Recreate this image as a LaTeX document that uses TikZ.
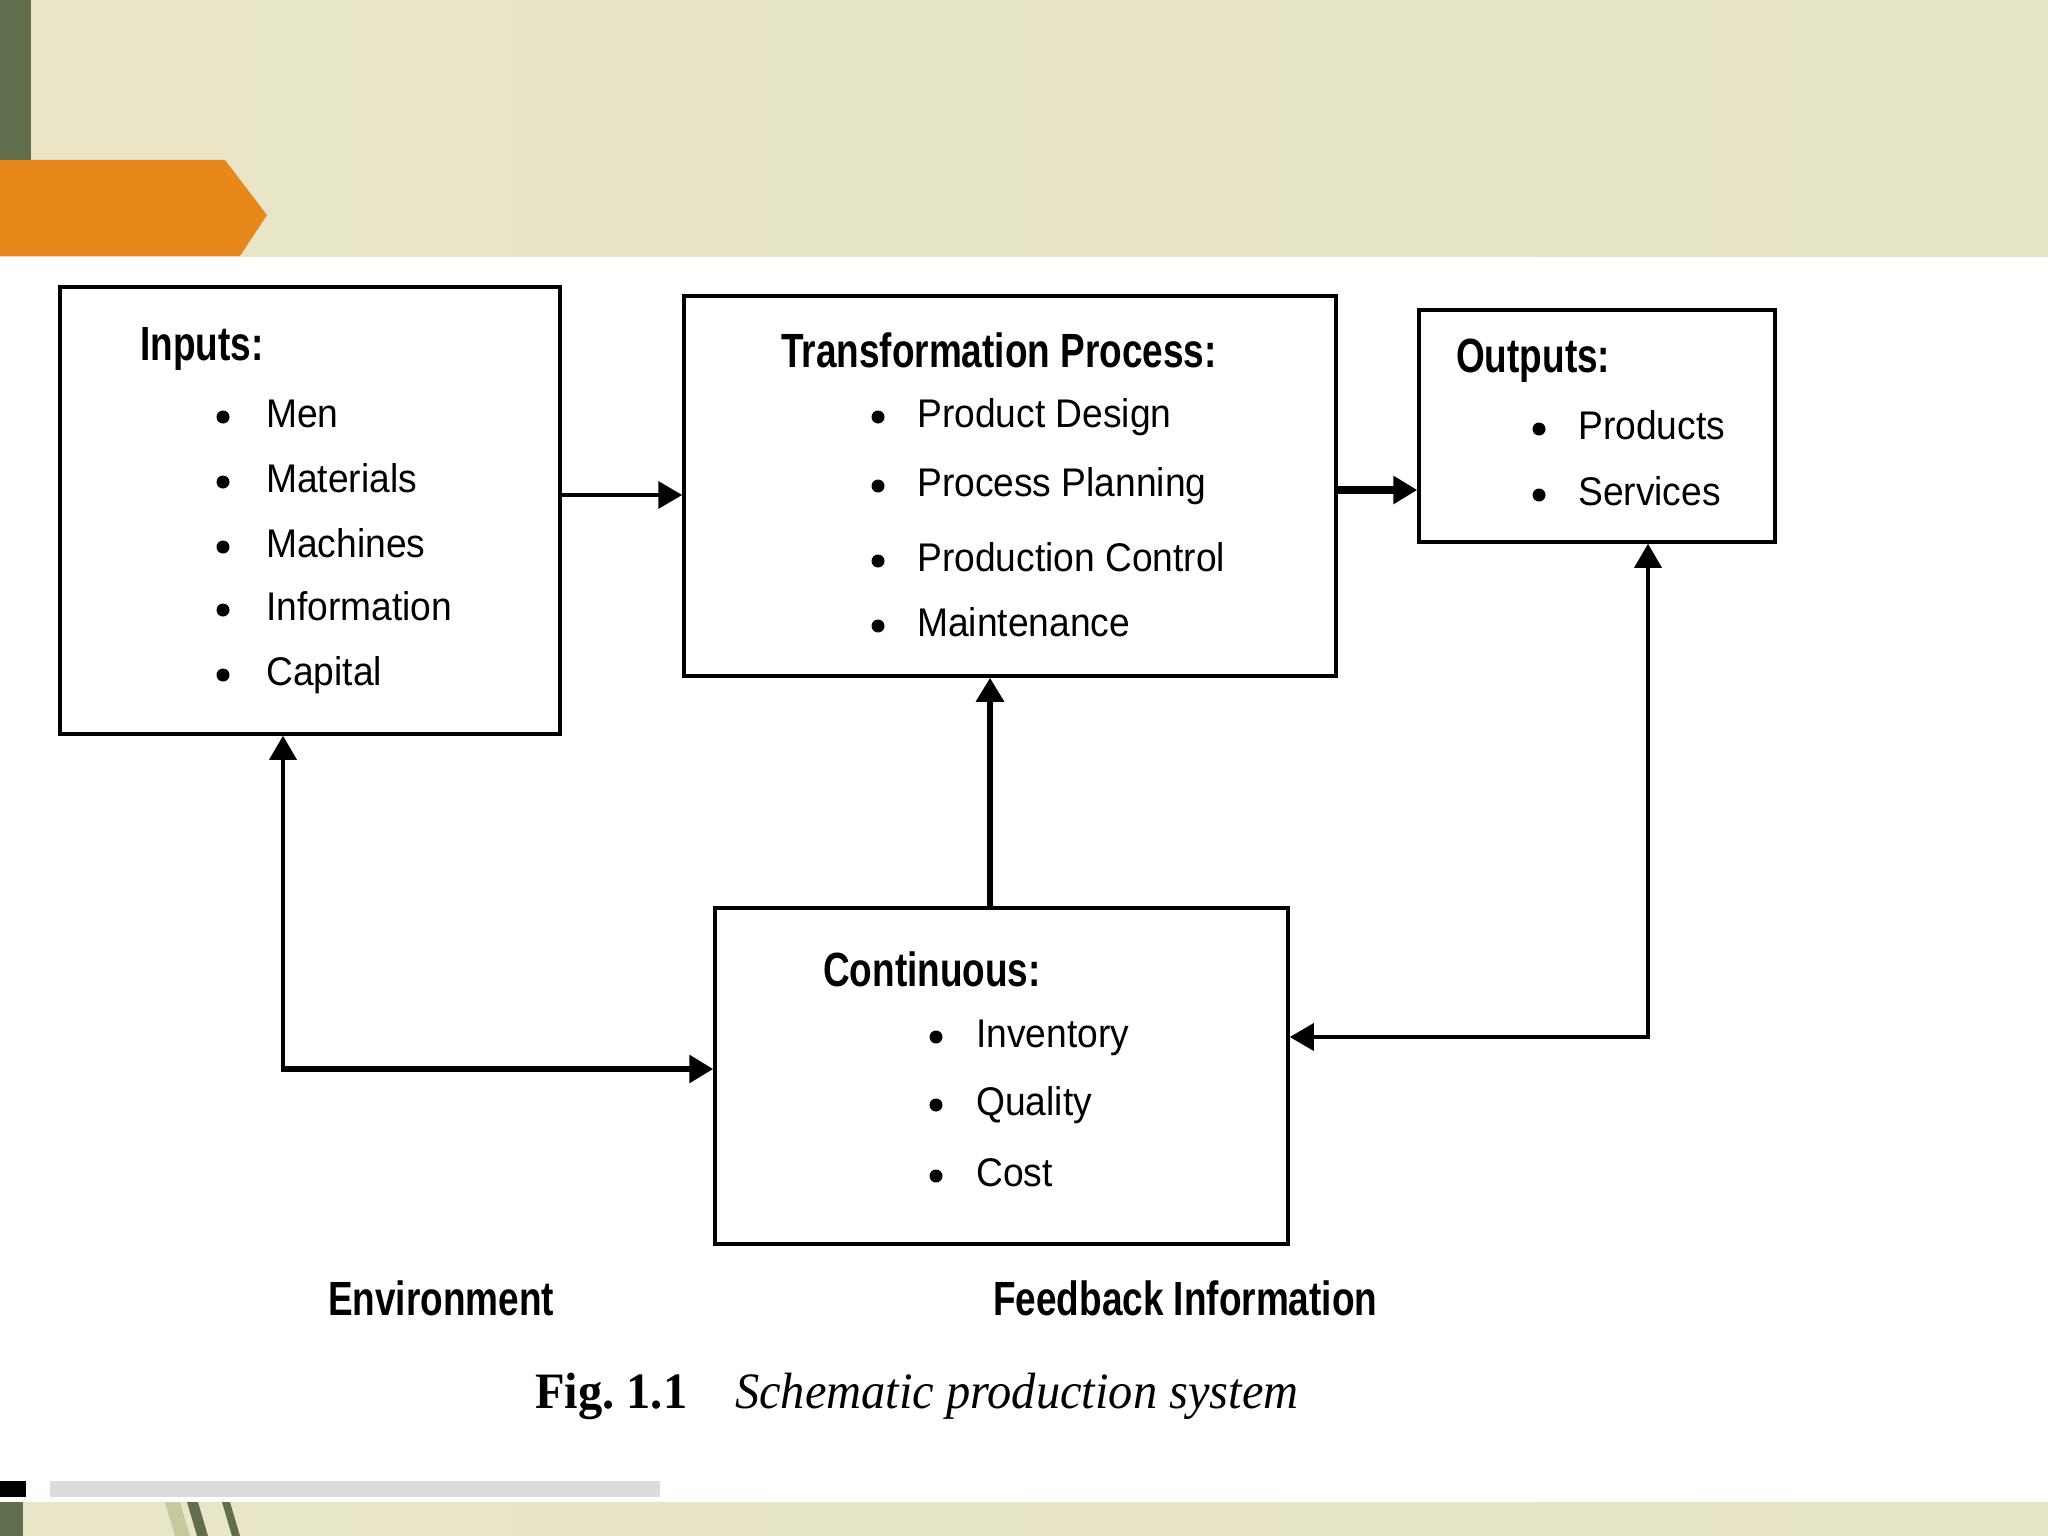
\documentclass[tikz,border=0pt]{standalone}
\usepackage{fontspec}
\setmainfont{Liberation Sans}
\newfontfamily\itemfont{Liberation Sans}[FakeStretch=0.93]
\newfontfamily\titlefont{Liberation Sans}[FakeStretch=0.77]
\newfontfamily\capfont{Liberation Serif}[FakeStretch=0.95]
\usetikzlibrary{arrows.meta}
\definecolor{bandA}{RGB}{233,230,200}
\definecolor{bandB}{RGB}{238,234,214}
\definecolor{bandC}{RGB}{229,228,197}
\definecolor{sage}{RGB}{97,110,78}
\definecolor{sagelight}{RGB}{200,200,160}
\definecolor{orng}{RGB}{232,135,26}
\definecolor{barg}{RGB}{220,219,221}
\tikzset{
  box/.style={draw=black, line width=3.5pt, inner sep=0pt, outer sep=1.75pt},
  arr/.style={-{Triangle[length=24pt,width=27pt]}},
  barr/.style={{Triangle[length=24pt,width=27pt]}-{Triangle[length=24pt,width=27pt]}},
  itm/.style={anchor=base west, inner sep=0pt, font=\itemfont\fontsize{40}{47}\selectfont},
  ttl/.style={anchor=base west, inner sep=0pt, font=\titlefont\bfseries\fontsize{48}{56}\selectfont},
  bul/.style={circle, fill=black, inner sep=0pt, minimum size=13pt},
}
\begin{document}
\begin{tikzpicture}[x=1pt,y=-1pt]
\useasboundingbox (0,0) rectangle (2048,1536);
\fill[white] (0,0) rectangle (2048,1536);
% top band
\shade[left color=bandA, middle color=bandB, right color=bandC] (0,0) rectangle (2048,256);
\fill[sage] (0,0) rectangle (31,160);
\fill[orng] (0,160) -- (225,160) -- (267,215) -- (240,256) -- (0,256) -- cycle;
% bottom band
\shade[left color=bandA, middle color=bandB, right color=bandC] (0,1502) rectangle (2048,1536);
\fill[sage] (0,1502) rectangle (23,1536);
\fill[black] (0,1481) rectangle (26,1497);
\fill[barg] (50,1481) rectangle (660,1497);
\fill[sagelight] (165,1502) -- (180,1502) -- (190,1536) -- (175,1536) -- cycle;
\fill[sage] (187,1502) -- (198,1502) -- (208,1536) -- (197,1536) -- cycle;
\fill[sage] (222,1502) -- (230,1502) -- (240,1536) -- (232,1536) -- cycle;

% boxes
\node[box, minimum width=500pt, minimum height=447pt] (inputs) at (310,510.5) {};
\node[box, minimum width=652pt, minimum height=380pt] (trans) at (1010,486) {};
\node[box, minimum width=356pt, minimum height=232pt] (outputs) at (1597,426) {};
\node[box, minimum width=573pt, minimum height=336pt] (cont) at (1001.5,1076) {};

% Inputs text
\node[ttl] (tin) at (140,360) {Inputs:};
\foreach \t/\yy [count=\i] in {Men/427, Materials/492, Machines/557, Information/620, Capital/685}{
  \node[bul] (inb\i) at (223,\yy-10) {};
  \node[itm] (int\i) at (266,\yy) {\t};
}
% Transformation text
\node[ttl] (ttr) at (781,367) {Transformation Process:};
\foreach \t/\yy [count=\i] in {Product Design/427, Process Planning/496, Production Control/571, Maintenance/636}{
  \node[bul] (trb\i) at (878,\yy-10) {};
  \node[itm] (trt\i) at (917,\yy) {\t};
}
% Outputs text
\node[ttl] (tout) at (1456,372) {Outputs:};
\foreach \t/\yy [count=\i] in {Products/439, Services/505}{
  \node[bul] (oub\i) at (1539,\yy-10) {};
  \node[itm] (out\i) at (1578,\yy) {\t};
}
% Continuous text
\node[ttl] (tcont) at (823,986) {Continuous:};
\foreach \t/\yy [count=\i] in {Inventory/1047, Quality/1115, Cost/1186}{
  \node[bul] (cob\i) at (936,\yy-10) {};
  \node[itm] (cot\i) at (976,\yy) {\t};
}

% labels
\node[ttl] (env) at (328,1315) {Environment};
\node[ttl] (fbi) at (993,1315) {Feedback Information};
\node[anchor=base west, inner sep=0pt, font=\capfont\bfseries\fontsize{51}{58}\selectfont] (figno) at (535,1408) {Fig.\ 1.1};
\node[anchor=base west, inner sep=0pt, font=\capfont\itshape\fontsize{51}{58}\selectfont] (figcap) at (735,1408) {Schematic production system};

% connectors
\coordinate (r1) at (0,495);
\coordinate (r2) at (0,490);
\coordinate (c1) at (990,0);
\coordinate (envc) at (283,1069);
\coordinate (fbc) at (1648,1037);
\draw[arr, line width=3.5pt] (inputs.east |- r1) -- (trans.west |- r1);
\draw[arr, line width=8pt] (trans.east |- r2) -- (outputs.west |- r2);
\draw[arr, line width=6pt] (cont.north -| c1) -- (trans.south -| c1);
\draw[arr, line width=3.5pt] (envc) -- (envc |- inputs.south);
\draw[arr, line width=6.5pt] ([xshift=-1.75pt]envc) -- (envc -| cont.west);
\draw[barr, line width=3.5pt] (fbc -| cont.east) -- (fbc) -- (fbc |- outputs.south);
\end{tikzpicture}
\end{document}
